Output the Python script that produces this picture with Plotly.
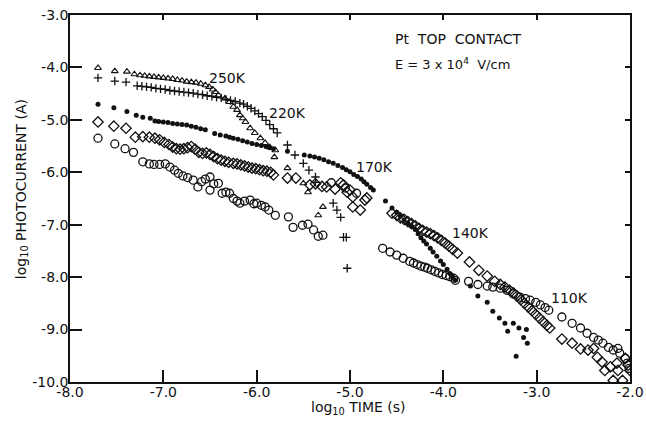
import plotly.graph_objects as go

# ---------------- data (log10 time, log10 photocurrent) ----------------
tri_x = [-7.70, -7.52, -7.39, -7.31, -7.25, -7.20, -7.15, -7.10, -7.05, -7.00, -6.95, -6.90,
         -6.85, -6.80, -6.75, -6.70, -6.65, -6.60, -6.55, -6.51, -6.47, -6.44, -6.41, -6.34,
         -6.29, -6.25, -6.21, -6.18, -6.15, -6.12, -6.07, -6.02, -5.96, -5.91, -5.86, -5.80,
         -5.81, -5.67, -5.50, -5.45, -5.29, -5.34]
tri_y = [-4.01, -4.07, -4.08, -4.13, -4.15, -4.16, -4.17, -4.18, -4.19, -4.20, -4.21, -4.22,
         -4.24, -4.25, -4.27, -4.28, -4.29, -4.31, -4.34, -4.37, -4.42, -4.47, -4.53, -4.59,
         -4.66, -4.75, -4.81, -4.91, -4.97, -5.04, -5.16, -5.25, -5.35, -5.44, -5.52, -5.58,
         -5.71, -5.92, -6.21, -6.38, -6.66, -6.82]

plus_x = [-7.70, -7.52, -7.40, -7.28, -7.23, -7.18, -7.13, -7.08, -7.03, -6.98, -6.93, -6.88,
          -6.83, -6.78, -6.73, -6.68, -6.63, -6.58, -6.53, -6.48, -6.43, -6.38, -6.33, -6.28,
          -6.23, -6.18, -6.14, -6.10, -6.06, -6.02, -5.98, -5.94, -5.90, -5.86, -5.82, -5.78,
          -5.67, -5.59, -5.50, -5.44, -5.37, -5.37, -5.18, -5.14, -5.10, -5.07, -5.04, -5.03]
plus_y = [-4.20, -4.26, -4.28, -4.35, -4.36, -4.37, -4.38, -4.40, -4.41, -4.42, -4.44, -4.45,
          -4.46, -4.47, -4.48, -4.49, -4.51, -4.52, -4.54, -4.55, -4.57, -4.58, -4.61, -4.63,
          -4.65, -4.68, -4.70, -4.74, -4.78, -4.83, -4.88, -4.94, -5.01, -5.09, -5.17, -5.25,
          -5.48, -5.67, -5.83, -5.96, -6.09, -6.19, -6.59, -6.72, -6.86, -7.24, -7.24, -7.83]

dot_x = [-7.70, -7.53, -7.39, -7.29, -7.22, -7.14, -7.09, -7.05, -7.00, -6.95, -6.90, -6.85,
         -6.80, -6.75, -6.70, -6.65, -6.60, -6.55, -6.45, -6.39, -6.33, -6.29, -6.25, -6.20,
         -6.15, -6.10, -6.05, -6.00, -5.95, -5.90, -5.86, -5.82,
         -5.67, -5.49, -5.43, -5.38, -5.33, -5.28, -5.23, -5.18, -5.13, -5.08, -5.04, -5.00,
         -4.96, -4.92, -4.88, -4.85, -4.82, -4.78, -4.75,
         -4.62, -4.55, -4.50, -4.46, -4.42, -4.38, -4.34, -4.30, -4.27, -4.24, -4.21, -4.18,
         -4.14, -4.11, -4.07, -4.03, -4.00, -3.96, -3.93, -3.90, -3.87,
         -3.71, -3.63, -3.53, -3.47, -3.40, -3.34, -3.31, -3.25, -3.19, -3.11, -3.14, -3.10, -3.22]
dot_y = [-4.70, -4.77, -4.84, -4.91, -4.95, -4.97, -5.02, -5.03, -5.04, -5.05, -5.07, -5.08,
         -5.09, -5.10, -5.12, -5.14, -5.17, -5.19, -5.26, -5.29, -5.31, -5.33, -5.35, -5.37,
         -5.40, -5.42, -5.45, -5.47, -5.49, -5.51, -5.53, -5.55,
         -5.60, -5.67, -5.69, -5.71, -5.73, -5.76, -5.80, -5.83, -5.87, -5.91, -5.95, -5.99,
         -6.04, -6.08, -6.13, -6.18, -6.23, -6.29, -6.34,
         -6.55, -6.68, -6.76, -6.84, -6.91, -6.97, -7.03, -7.09, -7.17, -7.25, -7.31, -7.37,
         -7.45, -7.52, -7.60, -7.69, -7.76, -7.85, -7.93, -8.00, -8.06,
         -8.17, -8.36, -8.48, -8.65, -8.78, -8.88, -9.03, -8.88, -8.97, -9.00, -9.15, -9.26, -9.51]

dia_x = [-7.70, -7.53, -7.40, -7.30, -7.22, -7.15, -7.09, -7.04, -6.99, -6.94, -6.90, -6.86,
         -6.82, -6.78, -6.74, -6.70, -6.66, -6.62, -6.58, -6.54, -6.50, -6.46, -6.42, -6.38,
         -6.34, -6.30, -6.25, -6.21, -6.17, -6.13, -6.09, -6.05, -6.01, -5.97, -5.93, -5.89,
         -5.85, -5.82,
         -5.67, -5.58, -5.43, -5.37, -5.30, -5.25, -5.16, -5.10, -5.07, -5.03, -5.00, -4.97,
         -4.97, -4.89, -4.84, -4.82,
         -4.55, -4.50, -4.46, -4.42, -4.38, -4.34, -4.30, -4.26, -4.22, -4.18, -4.14, -4.10,
         -4.06, -4.02, -3.98, -3.94, -3.90, -3.85,
         -3.72, -3.62, -3.53, -3.45, -3.39, -3.34, -3.29, -3.25, -3.21, -3.17, -3.13, -3.09,
         -3.05, -3.01, -2.97, -2.93, -2.89, -2.86,
         -2.73, -2.62, -2.53, -2.45, -2.39, -2.35, -2.30, -2.27, -2.21, -2.14, -2.13, -2.18,
         -2.08, -2.05, -2.02, -2.00]
dia_y = [-5.04, -5.12, -5.16, -5.33, -5.32, -5.33, -5.35, -5.38, -5.43, -5.47, -5.52, -5.55,
         -5.56, -5.55, -5.53, -5.51, -5.56, -5.62, -5.64, -5.63, -5.66, -5.70, -5.74, -5.77,
         -5.79, -5.81, -5.83, -5.84, -5.86, -5.88, -5.90, -5.92, -5.93, -5.95, -5.97, -5.98,
         -6.00, -6.05,
         -6.11, -6.11, -6.24, -6.22, -6.27, -6.28, -6.32, -6.20, -6.24, -6.38, -6.34, -6.47,
         -6.66, -6.72, -6.53, -6.49,
         -6.78, -6.82, -6.87, -6.90, -6.94, -6.98, -7.02, -7.07, -7.11, -7.14, -7.17, -7.21,
         -7.25, -7.30, -7.35, -7.41, -7.47, -7.54,
         -7.71, -7.87, -7.98, -8.08, -8.14, -8.19, -8.25, -8.30, -8.36, -8.43, -8.50, -8.57,
         -8.64, -8.71, -8.78, -8.85, -8.92, -8.97,
         -9.18, -9.26, -9.37, -9.39, -9.36, -9.53, -9.62, -9.78, -9.71, -9.64, -9.78, -9.97,
         -9.97, -9.55, -9.68, -9.78]

circ_x = [-7.70, -7.52, -7.41, -7.32, -7.22, -7.15, -7.10, -7.04, -6.98, -6.93, -6.88, -6.84,
          -6.79, -6.74, -6.68, -6.63, -6.59, -6.55, -6.50, -6.50, -6.46, -6.41, -6.37, -6.33,
          -6.29, -6.25, -6.21, -6.18, -6.13, -6.07, -6.03, -6.00, -5.95, -5.91, -5.87, -5.80,
          -5.66, -5.61, -5.51, -5.45, -5.39, -5.34, -5.29, -5.20, -5.05, -4.93,
          -4.65, -4.57, -4.50, -4.43, -4.36, -4.32, -4.28, -4.24, -4.20, -4.17, -4.13, -4.09,
          -4.05, -4.01, -3.97, -3.93, -3.89, -3.87,
          -3.73, -3.63, -3.53, -3.47, -3.39, -3.32, -3.25, -3.18, -3.12, -3.07, -3.01, -2.96,
          -2.91, -2.87,
          -2.73, -2.62, -2.53, -2.46, -2.39, -2.34, -2.29, -2.23, -2.18, -2.13, -2.11, -2.05,
          -2.03, -2.01]
circ_y = [-5.35, -5.46, -5.55, -5.62, -5.80, -5.84, -5.85, -5.85, -5.84, -5.90, -5.96, -6.02,
          -6.07, -6.10, -6.15, -6.28, -6.18, -6.13, -6.09, -6.34, -6.22, -6.21, -6.40, -6.38,
          -6.40, -6.50, -6.55, -6.59, -6.55, -6.53, -6.60, -6.59, -6.63, -6.66, -6.72, -6.82,
          -6.85, -7.05, -7.01, -6.99, -7.10, -7.22, -7.20, -6.20, -6.30, -6.40,
          -7.45, -7.52, -7.58, -7.64, -7.70, -7.73, -7.76, -7.79, -7.81, -7.83, -7.86, -7.89,
          -7.92, -7.95, -7.97, -7.99, -8.02, -8.06,
          -8.08, -8.14, -8.17, -8.19, -8.21, -8.25, -8.32, -8.38, -8.41, -8.44, -8.48, -8.53,
          -8.58, -8.63,
          -8.76, -8.88, -8.97, -9.07, -9.15, -9.20, -9.26, -9.34, -9.39, -9.36, -9.45, -9.55,
          -9.64, -9.74]

tick_vals_x = [-8.0, -7.0, -6.0, -5.0, -4.0, -3.0, -2.0]
tick_text_x = ["-8.0", "-7.0", "-6.0", "-5.0", "-4.0", "-3.0", "-2.0"]
tick_vals_y = [-3.0, -4.0, -5.0, -6.0, -7.0, -8.0, -9.0, -10.0]
tick_text_y = ["-3.0", "-4.0", "-5.0", "-6.0", "-7.0", "-8.0", "-9.0", "-10.0"]

temp_labels = ["250K", "220K", "170K", "140K", "110K"]
temp_label_x = [-6.31, -5.67, -4.74, -3.71, -2.65]
temp_label_y = [-4.20, -4.87, -5.90, -7.16, -8.40]

INK = "#111111"
FONT = "DejaVu Sans"

fig = go.Figure()

def add(xs, ys, symbol, size, lw):
    fig.add_trace(go.Scatter(
        x=xs, y=ys, mode="markers",
        marker=dict(symbol=symbol, size=size, color=INK,
                    line=dict(color=INK, width=lw)),
        showlegend=False, hoverinfo="skip"))

add(circ_x, circ_y, "circle-open", 8, 1.3)
add(dia_x, dia_y, "diamond-open", 8, 1.3)
add(dot_x, dot_y, "circle", 5, 0)
add(plus_x, plus_y, "cross-thin-open", 6, 1.3)
add(tri_x, tri_y, "triangle-up-open", 6, 1.1)

# empty trace to register the mirrored top/right axes
fig.add_trace(go.Scatter(x=[], y=[], xaxis="x2", yaxis="y2", showlegend=False))

for t, x, y in zip(temp_labels, temp_label_x, temp_label_y):
    fig.add_annotation(x=x, y=y, text=t, showarrow=False,
                       font=dict(family=FONT, size=14, color=INK))

fig.add_annotation(xref="paper", yref="paper", x=0.577, y=0.935,
                   xanchor="left", yanchor="middle",
                   text="Pt&nbsp; TOP&nbsp; CONTACT", showarrow=False,
                   font=dict(family=FONT, size=14, color=INK))
fig.add_annotation(xref="paper", yref="paper", x=0.577, y=0.866,
                   xanchor="left", yanchor="middle",
                   text="E = 3 x 10<sup>4</sup>&nbsp; V/cm", showarrow=False,
                   font=dict(family=FONT, size=13, color=INK))

fig.add_annotation(xref="paper", yref="paper", x=0.516, y=-0.071,
                   xanchor="center", yanchor="middle",
                   text="log<sub>10</sub> TIME (s)", showarrow=False,
                   font=dict(family=FONT, size=14, color=INK))
fig.add_annotation(xref="paper", yref="paper", x=-0.086, y=0.525,
                   xanchor="center", yanchor="middle", textangle=-90,
                   text="log<sub>10</sub> PHOTOCURRENT (A)", showarrow=False,
                   font=dict(family=FONT, size=14, color=INK))

axis_common = dict(showgrid=False, zeroline=False, showline=True, linecolor=INK,
                   linewidth=1.5, tickcolor=INK, tickwidth=1.5, automargin=False,
                   ticklabeloverflow="allow",
                   tickfont=dict(family=FONT, size=14, color=INK))

fig.update_layout(
    width=646, height=423,
    margin=dict(l=70, r=16, t=15, b=41, autoexpand=False),
    paper_bgcolor="white", plot_bgcolor="white",
    xaxis=dict(range=[-8, -2], tickvals=tick_vals_x, ticktext=tick_text_x,
               ticks="inside", ticklen=12, ticklabelstandoff=-4, **axis_common),
    yaxis=dict(range=[-10, -3], tickvals=tick_vals_y, ticktext=tick_text_y,
               ticks="inside", ticklen=12, ticklabelstandoff=-3, **axis_common),
    xaxis2=dict(range=[-8, -2], overlaying="x", side="top", tickvals=tick_vals_x,
                ticks="inside", ticklen=5, showticklabels=False, **axis_common),
    yaxis2=dict(range=[-10, -3], overlaying="y", side="right", tickvals=tick_vals_y,
                ticks="inside", ticklen=5, showticklabels=False, **axis_common),
)

# remove the browser's default body margin so the figure fills the window exactly
fig.write_html("out.html",
               config={"displayModeBar": False},
               post_script="document.body.style.margin='0px';"
                           "document.body.style.overflow='hidden';")
